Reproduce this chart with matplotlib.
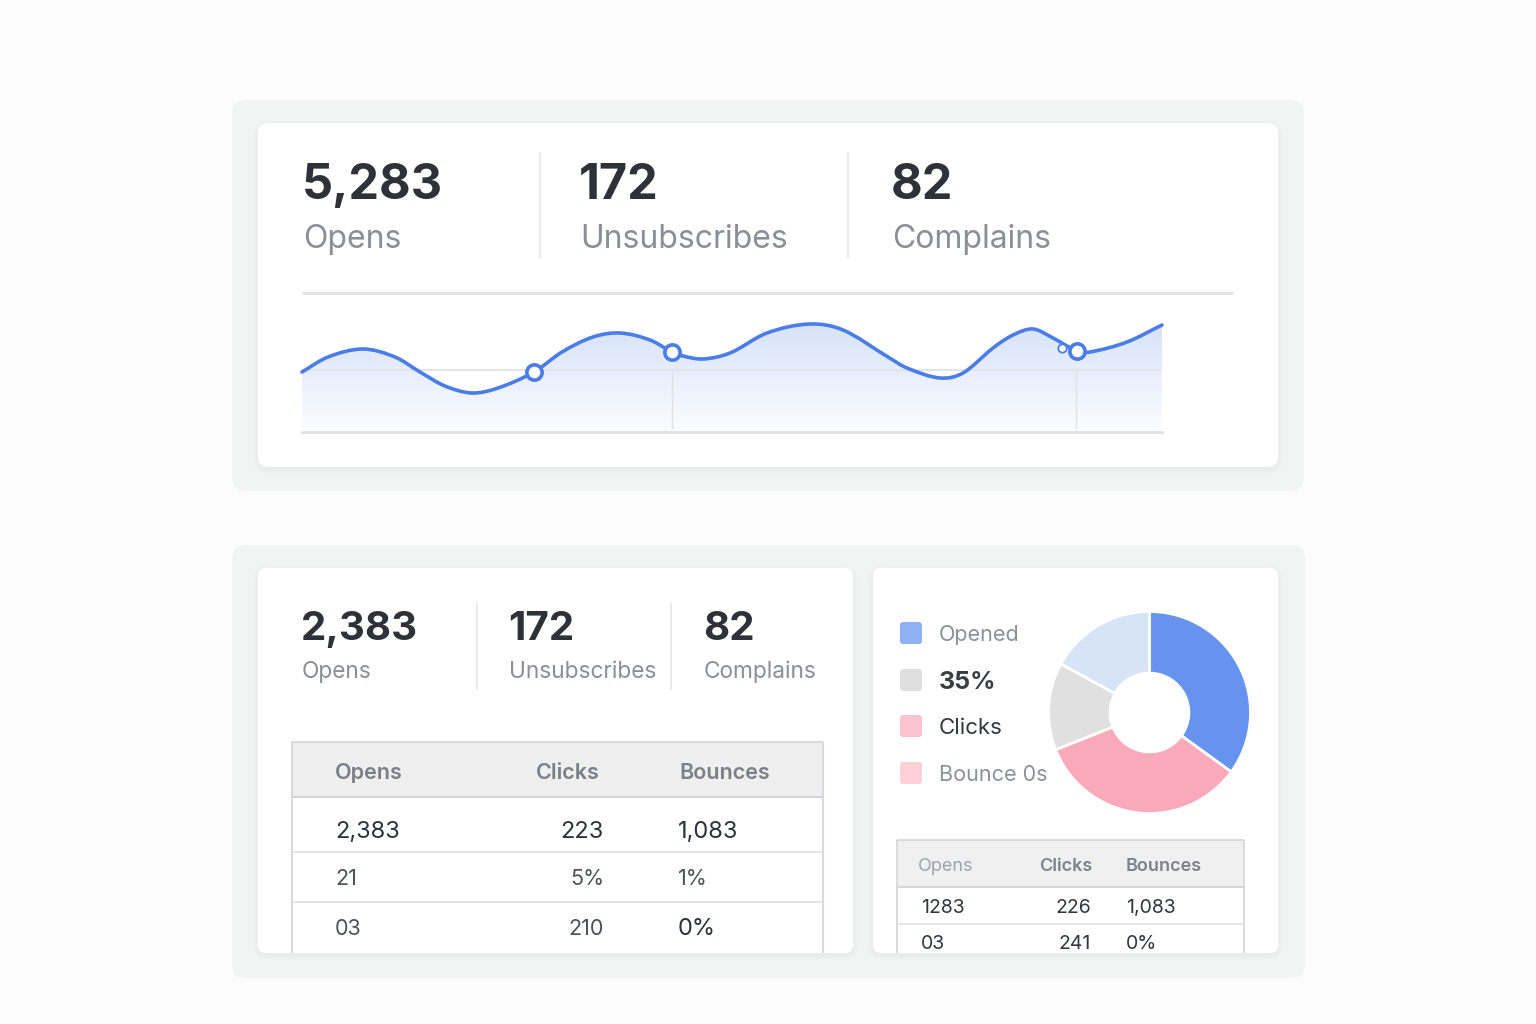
import numpy as np
import matplotlib
matplotlib.use("Agg")
import matplotlib.pyplot as plt
from matplotlib.patches import FancyBboxPatch, PathPatch, Rectangle
from matplotlib.path import Path

plt.rcParams['font.family'] = ['Inter', 'DejaVu Sans']

# ---------------- data ----------------
kpi_labels = ["Opens", "Unsubscribes", "Complains"]
kpi_top_values = ["5,283", "172", "82"]
kpi_bottom_values = ["2,383", "172", "82"]

trend_x = [0, 1.3, 3.05, 4.65, 5.9, 7.15, 8.5, 9.8, 11.6, 13, 14.55, 15.9, 17.4, 18.5,
           19.05, 20.05, 21.4, 23.25, 25.4, 27.05, 29.3, 30.25, 31.9, 33.05, 34.55,
           35.55, 36.55, 37.55, 38.75, 39.4, 41.25, 43]
trend_y = [60, 75, 83, 75, 60, 46, 39, 44, 60, 80, 95, 99, 92, 80,
           76, 73, 79, 99, 108, 102, 75, 64, 54, 59, 84,
           97, 103, 94, 81, 80, 90, 107]
marker_idx = [8, 13, 28]
small_marker = (38.0, 84)
grid_y = 62
vline_x = [18.5, 38.7]

table_headers = ["Opens", "Clicks", "Bounces"]
table_rows = [["2,383", "223", "1,083"],
              ["21", "5%", "1%"],
              ["03", "210", "0%"]]
small_headers = ["Opens", "Clicks", "Bounces"]
small_rows = [["1283", "226", "1,083"],
              ["03", "241", "0%"]]

legend_labels = ["Opened", "35%", "Clicks", "Bounce 0s"]
legend_colors = ["#8fb0f3", "#dfdfe0", "#fcc3ce", "#fdd0d8"]
donut_values = [35, 34, 14, 17]
donut_colors = ["#6693ee", "#f9a9b9", "#e0e0e1", "#d7e4f8"]

# ---------------- figure ----------------
W, H = 1536, 1024
fig = plt.figure(figsize=(W / 100, H / 100), dpi=100)
fig.patch.set_facecolor("#fcfcfc")
bg = fig.add_axes([0, 0, 1, 1])
bg.set_xlim(0, W)
bg.set_ylim(H, 0)
bg.axis("off")
bg.set_facecolor("none")


def rrect(x0, y0, x1, y1, r, fc, ec="none", lw=0, z=1, alpha=None):
    p = FancyBboxPatch((x0, y0), x1 - x0, y1 - y0,
                       boxstyle=f"round,pad=0,rounding_size={r}",
                       fc=fc, ec=ec, lw=lw, zorder=z, alpha=alpha)
    bg.add_patch(p)
    return p


def card(x0, y0, x1, y1, r):
    for i in range(1, 9):
        rrect(x0 - i * 0.7, y0 - i * 0.5 + 1.5, x1 + i * 0.7, y1 + i * 0.8 + 1.5, r + i,
              fc=(0.2, 0.22, 0.3, 0.005), z=2)
    rrect(x0, y0, x1, y1, r, fc="white", z=3)


def hline(y, x0, x1, c, lw, z=5):
    bg.plot([x0, x1], [y, y], color=c, lw=lw, zorder=z, solid_capstyle="butt")


def vline(x, y0, y1, c, lw, z=5):
    bg.plot([x, x], [y0, y1], color=c, lw=lw, zorder=z, solid_capstyle="butt")


DARK = "#2e3137"
GRAY = "#8a8e96"

# panels
rrect(232, 100, 1304, 491, 14, fc="#f2f3f3", z=1)
card(258, 123, 1278, 467, 10)
rrect(232, 545, 1305, 978, 14, fc="#f2f3f3", z=1)
card(258, 568, 853, 953, 8)
card(873, 568, 1278, 953, 8)

# ---- top KPIs ----
for v, lab, xv in zip(kpi_top_values, kpi_labels, [302, 579, 891]):
    bg.text(xv, 199, v, fontsize=35, fontweight="bold", color=DARK, va="baseline", zorder=6)
    bg.text(xv + 1, 248, lab, fontsize=23, color=GRAY, va="baseline", zorder=6)
for xd in [540, 848]:
    vline(xd, 152, 258, "#e6e6e8", 1.2)
hline(293, 302, 1233, "#e3e3e6", 2)

# ---- line chart ----
ax = fig.add_axes([302 / W, 1 - 432 / H, 860 / W, 140 / H])
ax.set_xlim(0, 43)
ax.set_ylim(0, 140)
ax.axis("off")
ax.set_zorder(5)
ax.patch.set_alpha(0)

xs = np.array(trend_x, float)
ys = np.array(trend_y, float)
n = len(xs)
m = np.zeros(n)
for i in range(n):
    if i == 0:
        m[i] = (ys[1] - ys[0]) / (xs[1] - xs[0])
    elif i == n - 1:
        m[i] = (ys[-1] - ys[-2]) / (xs[-1] - xs[-2])
    else:
        m[i] = (ys[i + 1] - ys[i - 1]) / (xs[i + 1] - xs[i - 1])
verts = [(xs[0], ys[0])]
codes = [Path.MOVETO]
for i in range(n - 1):
    dx = xs[i + 1] - xs[i]
    verts += [(xs[i] + dx / 3, ys[i] + m[i] * dx / 3),
              (xs[i + 1] - dx / 3, ys[i + 1] - m[i + 1] * dx / 3),
              (xs[i + 1], ys[i + 1])]
    codes += [Path.CURVE4] * 3
curve = Path(verts, codes)
fill_path = Path([(xs[0], 0)] + verts + [(xs[-1], 0), (xs[0], 0)],
                 [Path.MOVETO, Path.LINETO] + codes[1:] + [Path.LINETO, Path.CLOSEPOLY])

# gradient fill
top_c = np.array([0.84, 0.885, 0.975])
bot_c = np.array([0.985, 0.99, 1.0])
t = np.linspace(0, 1, 256)[:, None]
grad = bot_c[None, :] * (1 - t) + top_c[None, :] * t
img = ax.imshow(grad[:, None, :], extent=(0, 43, 0, 112), origin="lower",
                aspect="auto", zorder=1, interpolation="bicubic")
fp = PathPatch(fill_path, fc="none", ec="none", transform=ax.transData)
ax.add_patch(fp)
img.set_clip_path(fp)
ax.set_xlim(0, 43)
ax.set_ylim(0, 140)

# grid
ax.plot([0, 43], [grid_y, grid_y], color="#e4e4e6", lw=1.5, zorder=2)
ax.plot([0, 43], [0, 0], color="#e0e0e3", lw=2, zorder=2, clip_on=False)
for xv in vline_x:
    ax.plot([xv, xv], [grid_y - 2, 4], color="#e2e2e4", lw=1, zorder=2)

BLUE = "#4a7de6"
ax.add_patch(PathPatch(curve, fc="none", ec=BLUE, lw=2.6, zorder=3, clip_on=False,
                       capstyle="round"))
ax.plot(xs[marker_idx], ys[marker_idx], "o", ms=11, mfc="white", mec=BLUE, mew=2.6,
        zorder=4, clip_on=False)
ax.plot([small_marker[0]], [small_marker[1]], "o", ms=6, mfc="white", mec=BLUE, mew=1.3,
        zorder=4, clip_on=False)

# ---- bottom-left KPIs ----
for v, lab, xv in zip(kpi_bottom_values, kpi_labels, [301, 508, 703]):
    bg.text(xv, 640, v, fontsize=29, fontweight="bold", color=DARK, va="baseline", zorder=6)
    bg.text(xv + 1, 678, lab, fontsize=16.3, color=GRAY, va="baseline", zorder=6)
for xd in [477, 671]:
    vline(xd, 603, 690, "#e6e6e8", 1.2)

# ---- left table ----
bg.add_patch(Rectangle((292, 742), 823 - 292, 797 - 742, fc="#efefef", ec="none", zorder=4))
vline(292, 742, 953, "#d9d9db", 1.5)
vline(823, 742, 953, "#d9d9db", 1.5)
hline(742, 292, 823, "#d9d9db", 1.5)
hline(797, 292, 823, "#d4d4d6", 1.5)
hline(852, 292, 823, "#e2e2e4", 1.3)
hline(902, 292, 823, "#e2e2e4", 1.3)
for h, xh in zip(table_headers, [335, 536, 679]):
    bg.text(xh, 779, h, fontsize=15.5, fontweight="semibold", color="#7c7f87",
            va="baseline", zorder=6)
row_base = [838, 885, 935]
row_size = [[17, 17, 17], [15.5, 15.5, 15.5], [15.5, 15.5, 17]]
row_col = [[DARK, DARK, DARK], ["#4d5056"] * 3, ["#4d5056", "#4d5056", DARK]]
for r, (row, yb) in enumerate(zip(table_rows, row_base)):
    bg.text(335, yb, row[0], fontsize=row_size[r][0], color=row_col[r][0], va="baseline", zorder=6)
    bg.text(604, yb, row[1], fontsize=row_size[r][1], color=row_col[r][1], va="baseline",
            ha="right", zorder=6)
    bg.text(678, yb, row[2], fontsize=row_size[r][2], color=row_col[r][2], va="baseline", zorder=6)

# ---- legend ----
for lab, c, yc in zip(legend_labels, legend_colors, [633, 680, 726, 773]):
    rrect(900, yc - 11, 922, yc + 11, 3, fc=c, z=5)
    if lab == "35%":
        bg.text(939, yc + 9, lab, fontsize=18, fontweight="bold", color="#3a3d43",
                va="baseline", zorder=6)
    elif lab == "Clicks":
        bg.text(939, yc + 8, lab, fontsize=16, color="#33363c", va="baseline", zorder=6)
    else:
        bg.text(939, yc + 8, lab, fontsize=15.5, color="#8d9097", va="baseline", zorder=6)

# ---- donut ----
cx, cy, R = 1149.5, 712.5, 101
dax = fig.add_axes([(cx - R) / W, 1 - (cy + R) / H, 2 * R / W, 2 * R / H])
dax.set_zorder(6)
dax.pie(donut_values, colors=donut_colors, startangle=90, counterclock=False,
        radius=1, wedgeprops=dict(width=0.61, edgecolor="white", linewidth=2))
dax.set_xlim(-1, 1)
dax.set_ylim(-1, 1)
dax.set_aspect("equal")
dax.axis("off")

# ---- small table ----
bg.add_patch(Rectangle((897, 840), 1244 - 897, 887 - 840, fc="#f0f0f1", ec="none", zorder=4))
vline(897, 840, 953, "#dadadc", 1.4)
vline(1244, 840, 953, "#dadadc", 1.4)
hline(840, 897, 1244, "#dadadc", 1.4)
hline(887, 897, 1244, "#d6d6d8", 1.4)
hline(924, 897, 1244, "#e2e2e4", 1.2)
bg.text(918, 871, small_headers[0], fontsize=13, color="#a0a3a9", va="baseline", zorder=6)
bg.text(1039, 871, small_headers[1], fontsize=13, fontweight="semibold", color="#7f8289",
        va="baseline", zorder=6)
bg.text(1126, 871, small_headers[2], fontsize=13, fontweight="semibold", color="#7f8289",
        va="baseline", zorder=6)
for row, yb in zip(small_rows, [913, 949]):
    bg.text(921, yb, row[0], fontsize=14, color="#33363c", va="baseline", zorder=6)
    bg.text(1091, yb, row[1], fontsize=14, color="#33363c", va="baseline", ha="right", zorder=6)
    bg.text(1126, yb, row[2], fontsize=14, color="#33363c", va="baseline", zorder=6)

fig.savefig("out.png", dpi=100, facecolor=fig.get_facecolor())
